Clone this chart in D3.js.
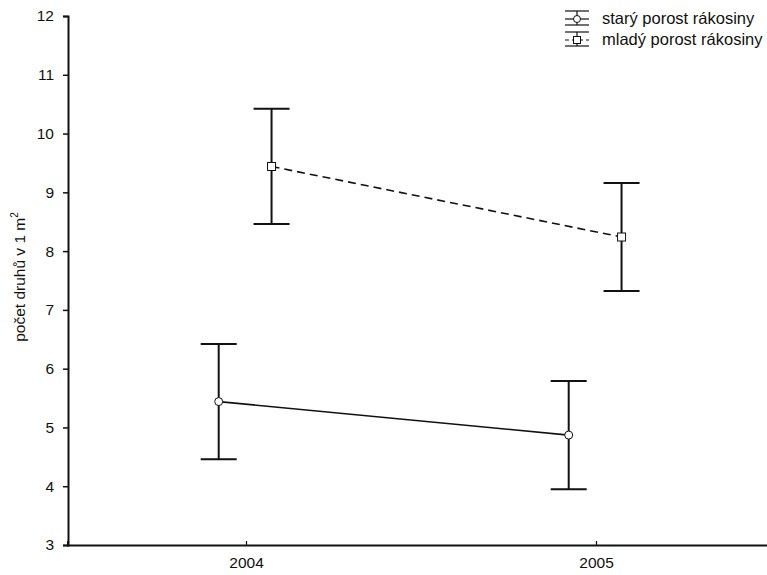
<!DOCTYPE html>
<html>
<head>
<meta charset="utf-8">
<script src="https://cdn.jsdelivr.net/npm/d3@7"></script>
<style>
  body { margin: 0; background: #fff; }
  svg { display: block; font-family: "Liberation Sans", Arial, sans-serif; }
  .tick-label { font-size: 15.5px; fill: #111; }
  .axis-label { font-size: 15.5px; fill: #111; }
  .legend-text { font-size: 16.5px; fill: #111; }
</style>
</head>
<body>
<div id="chart"></div>
<script>
// data (mean and half-width of error bar)
const years = [2004, 2005];
const yTicks = [3, 4, 5, 6, 7, 8, 9, 10, 11, 12];
const seriesNames = ["starý porost rákosiny", "mladý porost rákosiny"];
const staryMean = [5.44, 4.87];
const staryErr = [0.98, 0.92];
const mladyMean = [9.44, 8.24];
const mladyErr = [0.98, 0.92];

const width = 767, height = 575;
const margin = { top: 16, right: 0, bottom: 30, left: 68 };

const svg = d3.select("#chart")
  .append("svg")
  .attr("width", width)
  .attr("height", height);

const xScale = d3.scaleLinear()
  .domain([2003.49, 2005.5])
  .range([margin.left - 0.5, 771]);

const yScale = d3.scaleLinear()
  .domain([3, 12])
  .range([545, margin.top]);

// series: small horizontal shift so bars do not overlap
const series = [
  { name: seriesNames[0], mean: staryMean, err: staryErr, shift: -0.078, dash: null, marker: "circle" },
  { name: seriesNames[1], mean: mladyMean, err: mladyErr, shift: 0.073, dash: "8,5", marker: "square" }
];

// Axes
const leftAxis = d3.axisLeft(yScale)
  .tickValues(yTicks)
  .tickSize(5)
  .tickPadding(9)
  .tickFormat(d3.format("d"));

const gy = svg.append("g")
  .attr("transform", `translate(${margin.left}, 0)`)
  .call(leftAxis);
gy.select(".domain").attr("stroke", "#111").attr("stroke-width", 2);
gy.selectAll(".tick line").attr("stroke", "#111").attr("stroke-width", 1.5);
gy.selectAll(".tick text").attr("class", "tick-label").attr("font-size", null).attr("font-family", null);

const bottomAxis = d3.axisBottom(xScale)
  .tickValues(years)
  .tickSize(-4)
  .tickPadding(12)
  .tickFormat(d3.format("d"));

const gx = svg.append("g")
  .attr("transform", `translate(0, ${yScale(3)})`)
  .call(bottomAxis);
gx.select(".domain").attr("stroke", "#111").attr("stroke-width", 2);
gx.selectAll(".tick line").attr("stroke", "#111").attr("stroke-width", 1.2);
gx.selectAll(".tick text").attr("class", "tick-label").attr("font-size", null).attr("font-family", null);

// Y axis label
const yLabel = svg.append("text")
  .attr("class", "axis-label")
  .attr("text-anchor", "middle")
  .attr("transform", `translate(25, 277) rotate(-90)`);
yLabel.append("tspan").text("počet druhů v 1 m");
yLabel.append("tspan").attr("dy", -7).attr("font-size", 10).text("2");

// Lines, error bars, markers
const capHalf = 18;
series.forEach(s => {
  const pts = years.map((yr, i) => ({
    x: xScale(yr + s.shift),
    y: yScale(s.mean[i]),
    lo: yScale(s.mean[i] - s.err[i]),
    hi: yScale(s.mean[i] + s.err[i])
  }));

  svg.append("path")
    .datum(pts)
    .attr("fill", "none")
    .attr("stroke", "#111")
    .attr("stroke-width", 1.6)
    .attr("stroke-dasharray", s.dash)
    .attr("d", d3.line().x(d => d.x).y(d => d.y));

  const eb = svg.append("g").attr("stroke", "#111").attr("stroke-width", 2);
  eb.selectAll(".whisker")
    .data(pts)
    .join("line")
      .attr("x1", d => d.x).attr("x2", d => d.x)
      .attr("y1", d => d.hi).attr("y2", d => d.lo);
  eb.selectAll(".cap-top")
    .data(pts)
    .join("line")
      .attr("x1", d => d.x - capHalf).attr("x2", d => d.x + capHalf)
      .attr("y1", d => d.hi).attr("y2", d => d.hi);
  eb.selectAll(".cap-bottom")
    .data(pts)
    .join("line")
      .attr("x1", d => d.x - capHalf).attr("x2", d => d.x + capHalf)
      .attr("y1", d => d.lo).attr("y2", d => d.lo);

  if (s.marker === "circle") {
    svg.selectAll(null)
      .data(pts)
      .join("circle")
        .attr("cx", d => d.x).attr("cy", d => d.y).attr("r", 4)
        .attr("fill", "#fff").attr("stroke", "#111").attr("stroke-width", 1);
  } else {
    svg.selectAll(null)
      .data(pts)
      .join("rect")
        .attr("x", d => d.x - 4).attr("y", d => d.y - 4)
        .attr("width", 8).attr("height", 8)
        .attr("fill", "#fff").attr("stroke", "#111").attr("stroke-width", 1);
  }
});

// Legend (small error-bar glyphs)
const legend = svg.append("g")
  .attr("transform", "translate(565, 0)");

series.forEach((s, i) => {
  const cy = 19 + i * 21;
  const g = legend.append("g").attr("stroke", "#111").attr("stroke-width", 1.2);
  g.append("line").attr("x1", 0).attr("x2", 24).attr("y1", cy - 8).attr("y2", cy - 8);
  g.append("line").attr("x1", 0).attr("x2", 24).attr("y1", cy + 6).attr("y2", cy + 6);
  g.append("line").attr("x1", 12).attr("x2", 12).attr("y1", cy - 8).attr("y2", cy + 6);
  g.append("line").attr("x1", 0).attr("x2", 24).attr("y1", cy).attr("y2", cy)
    .attr("stroke-dasharray", s.dash ? "4,3" : null);
  if (s.marker === "circle") {
    g.append("circle").attr("cx", 12).attr("cy", cy).attr("r", 3.5)
      .attr("fill", "#fff").attr("stroke-width", 1);
  } else {
    g.append("rect").attr("x", 8.5).attr("y", cy - 3.5).attr("width", 7).attr("height", 7)
      .attr("fill", "#fff").attr("stroke-width", 1);
  }
  legend.append("text")
    .attr("class", "legend-text")
    .attr("x", 37)
    .attr("y", cy + 5)
    .text(s.name);
});
</script>
</body>
</html>
